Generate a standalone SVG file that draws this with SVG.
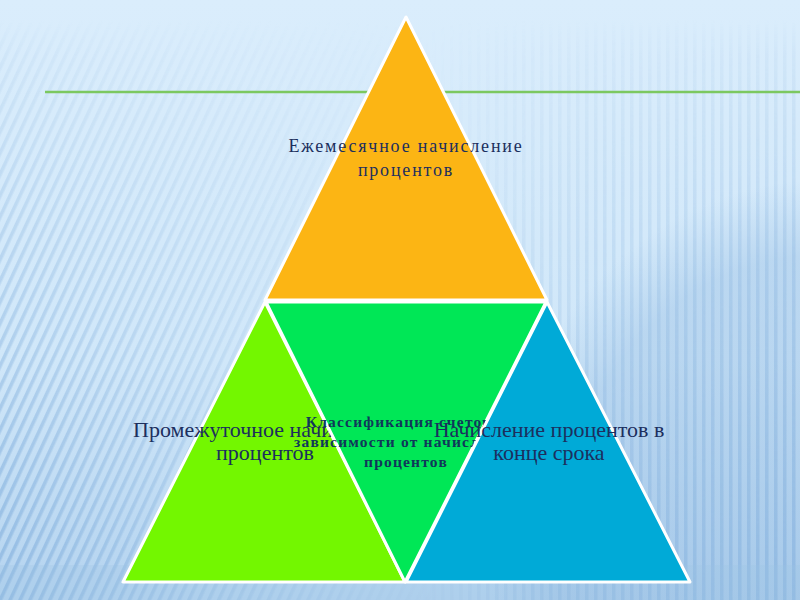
<svg xmlns="http://www.w3.org/2000/svg" width="800" height="600" viewBox="0 0 800 600">
  <defs>
    <linearGradient id="bg" x1="0" y1="0" x2="0" y2="1">
      <stop offset="0" stop-color="#DAEDFC"/>
      <stop offset="0.6" stop-color="#D0E7F9"/>
      <stop offset="1" stop-color="#B4D3EF"/>
    </linearGradient>
    <pattern id="diag" width="9" height="9" patternUnits="userSpaceOnUse" patternTransform="rotate(25)">
      <rect width="3.5" height="9" fill="#86B2DE"/>
    </pattern>
    <pattern id="vert" width="9" height="9" patternUnits="userSpaceOnUse">
      <rect width="3.5" height="9" fill="#86B2DE"/>
    </pattern>
    <linearGradient id="gH1" x1="0" y1="0" x2="1" y2="0">
      <stop offset="0" stop-color="#fff" stop-opacity="0.7"/>
      <stop offset="0.55" stop-color="#fff" stop-opacity="0.3"/>
      <stop offset="1" stop-color="#fff" stop-opacity="0"/>
    </linearGradient>
    <linearGradient id="gV" x1="0" y1="0" x2="0" y2="1">
      <stop offset="0" stop-color="#fff" stop-opacity="0"/>
      <stop offset="0.06" stop-color="#fff" stop-opacity="0.15"/>
      <stop offset="0.35" stop-color="#fff" stop-opacity="0.45"/>
      <stop offset="1" stop-color="#fff" stop-opacity="1"/>
    </linearGradient>
    <linearGradient id="gH2" x1="0" y1="0" x2="1" y2="0">
      <stop offset="0" stop-color="#fff" stop-opacity="0"/>
      <stop offset="0.4" stop-color="#fff" stop-opacity="0.4"/>
      <stop offset="1" stop-color="#fff" stop-opacity="0.65"/>
    </linearGradient>
    <mask id="mH1"><rect x="0" y="0" width="440" height="600" fill="url(#gH1)"/></mask>
    <mask id="mV"><rect x="0" y="20" width="800" height="580" fill="url(#gV)"/></mask>
    <mask id="mH2"><rect x="420" y="0" width="380" height="600" fill="url(#gH2)"/></mask>
    <radialGradient id="arc" cx="0.5" cy="0.5" r="0.5">
      <stop offset="0.8" stop-color="#8FB8E0" stop-opacity="0.35"/>
      <stop offset="1" stop-color="#8FB8E0" stop-opacity="0"/>
    </radialGradient>
    <style>
      .tri { stroke: #FFFFFF; stroke-width: 3; stroke-linejoin: round; }
      .lbl { font-family: "Liberation Serif", "Times New Roman", serif; fill: #1C2F5E; text-anchor: middle; }
      .big { font-size: 22px; }
      .top { font-size: 18px; letter-spacing: 1.8px; }
      .bold { font-size: 15.5px; font-weight: bold; letter-spacing: 1.2px; fill: #10385A; }
    </style>
  </defs>

  <!-- background -->
  <rect x="0" y="0" width="800" height="600" fill="url(#bg)"/>
  <ellipse cx="820" cy="560" rx="330" ry="380" fill="url(#arc)"/>
  <g mask="url(#mV)">
    <rect x="0" y="0" width="440" height="600" fill="url(#diag)" mask="url(#mH1)"/>
    <rect x="420" y="0" width="380" height="600" fill="url(#vert)" mask="url(#mH2)"/>
  </g>
  <rect x="0" y="565" width="800" height="35" fill="#9DC2E5" opacity="0.25"/>
  <line x1="45" y1="92" x2="800" y2="92" stroke="#7CC860" stroke-width="2.5"/>

  <g id="node-top">
    <polygon class="tri" points="406,17 265,300 547,300" fill="#FCB514"/>
    <text class="lbl top" x="406" y="152">Ежемесячное начисление</text>
    <text class="lbl top" x="406" y="176">процентов</text>
  </g>

  <g id="node-left">
    <polygon class="tri" points="265,302 123,582 405,582" fill="#73F700"/>
    <text class="lbl big" x="265" y="437">Промежуточное начисление</text>
    <text class="lbl big" x="265" y="460">процентов</text>
  </g>

  <g id="node-center">
    <polygon class="tri" points="266,302 546,302 405,582" fill="#00E756"/>
    <text class="lbl bold" x="406" y="427">Классификация счетов в</text>
    <text class="lbl bold" x="406" y="447">зависимости от начисления</text>
    <text class="lbl bold" x="406" y="467">процентов</text>
  </g>

  <g id="node-right">
    <polygon class="tri" points="547,302 406,582 690,582" fill="#00AAD7"/>
    <text class="lbl big" x="549" y="437">Начисление процентов в</text>
    <text class="lbl big" x="549" y="460">конце срока</text>
  </g>

  <g id="connectors"></g>
</svg>
